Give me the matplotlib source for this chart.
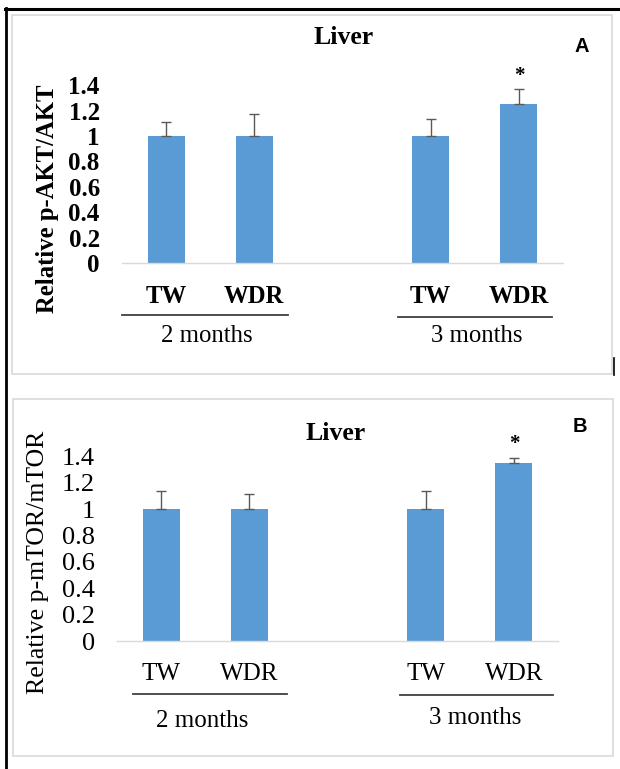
import matplotlib
matplotlib.use("Agg")
import matplotlib.pyplot as plt
from matplotlib.patches import Rectangle
from matplotlib.lines import Line2D
from matplotlib.transforms import blended_transform_factory

# data
groups = ["TW", "WDR", "TW", "WDR"]
positions = [0, 1, 3, 4]
periods = ["2 months", "3 months"]
akt_mean = [1.0, 1.0, 1.0, 1.25]
akt_err = [0.11, 0.17, 0.13, 0.12]
mtor_mean = [1.0, 1.0, 1.0, 1.35]
mtor_err = [0.14, 0.11, 0.14, 0.04]
yticks = [0, 0.2, 0.4, 0.6, 0.8, 1.0, 1.2, 1.4]
ytick_labels = ["0", "0.2", "0.4", "0.6", "0.8", "1", "1.2", "1.4"]

W, H = 620, 769
SERIF = "Liberation Serif"
BLUE = "#5B9BD5"

fig = plt.figure(figsize=(W / 100, H / 100), dpi=100)


def fx(px):
    return px / W


def fy(py):
    return 1 - py / H


# outer black frame (left and top only) plus the stray mark at right
fig.add_artist(Line2D([fx(6), fx(6)], [fy(8), fy(769)], color="black", lw=2.0))
fig.add_artist(Line2D([fx(5), fx(620)], [fy(8.5), fy(8.5)], color="black", lw=2.2))
fig.add_artist(Line2D([fx(614), fx(614)], [fy(358), fy(375)], color="black", lw=1.2))

# light grey panel frames
for (x0, y0, x1, y1) in [(12, 15, 612, 374), (13, 399, 613, 756)]:
    fig.add_artist(Rectangle((fx(x0), fy(y1)), fx(x1) - fx(x0), fy(y0) - fy(y1),
                             fill=False, edgecolor="#D9D9D9", lw=1.2))


def panel(left, right, y0, ppu, means, errs, bold, ylabel, ylab_xy, ylab_fs,
          tick_fs, lab_fs, title_xy, letter, letter_xy, cat_pad, line_specs,
          period_xy):
    w = "bold" if bold else "normal"
    top = y0 - 1.4 * ppu
    ax = fig.add_axes([fx(left), fy(y0), fx(right) - fx(left), fy(top) - fy(y0)])
    ax.bar(positions, means, width=0.42, color=BLUE, zorder=2)
    ax.errorbar(positions, means, yerr=[[0] * 4, errs], fmt="none",
                ecolor="#595959", elinewidth=1.0, capsize=3.4, capthick=1.0,
                zorder=3, clip_on=False)
    for p, m, e in zip(positions, means, errs):
        if m > 1.1:
            ax.text(p, m + e + 0.025, "*", ha="center", va="bottom",
                    fontsize=15, family=SERIF, fontweight="bold")
    ax.set_xlim(-0.5, 4.5)
    ax.set_ylim(0, 1.4)
    for s in ["top", "right", "left"]:
        ax.spines[s].set_visible(False)
    ax.spines["bottom"].set_color("#D9D9D9")
    ax.spines["bottom"].set_linewidth(1.0)
    ax.set_yticks(yticks, ytick_labels)
    ax.set_xticks(positions, groups)
    ax.tick_params(axis="y", length=0, pad=16, labelsize=tick_fs)
    ax.tick_params(axis="x", length=0, pad=cat_pad, labelsize=lab_fs)
    for t in ax.get_yticklabels() + ax.get_xticklabels():
        t.set_family(SERIF)
        t.set_fontweight(w)
    ax.patch.set_alpha(0)

    trans = blended_transform_factory(ax.transData, fig.transFigure)
    for (xa, xb, ly), name, (px, py) in zip(line_specs, periods, period_xy):
        fig.add_artist(Line2D([xa, xb], [fy(ly), fy(ly)], transform=trans,
                              color="#404040", lw=1.3))
        fig.text(fx(px), fy(py), name, ha="center", va="center",
                 fontsize=lab_fs, family=SERIF)

    fig.text(fx(ylab_xy[0]), fy(ylab_xy[1]), ylabel, rotation=90,
             ha="center", va="center", fontsize=ylab_fs, family=SERIF,
             fontweight=w)
    fig.text(fx(title_xy[0]), fy(title_xy[1]), "Liver", ha="center",
             va="center", fontsize=18.5, family=SERIF, fontweight="bold")
    fig.text(fx(letter_xy[0]), fy(letter_xy[1]), letter, ha="center",
             va="center", fontsize=14.5, family="Liberation Sans",
             fontweight="bold")
    return ax


panel(122, 563, 263, 127, akt_mean, akt_err, True, "Relative p-AKT/AKT",
      (48, 199), 17.8, 18, 17.8, (344, 38), "A", (582, 46), 15.5,
      [(-0.5, 1.38, 315), (2.63, 4.38, 317)], [(207, 336), (477, 336)])

panel(117, 558, 641, 132, mtor_mean, mtor_err, False, "Relative p-mTOR/mTOR",
      (38, 562), 18.6, 19, 18, (336, 433), "B", (580, 427), 15.5,
      [(-0.32, 1.43, 694), (2.71, 4.44, 695)], [(202, 721), (475, 718)])

fig.savefig("out.png", dpi=100, facecolor="white")
